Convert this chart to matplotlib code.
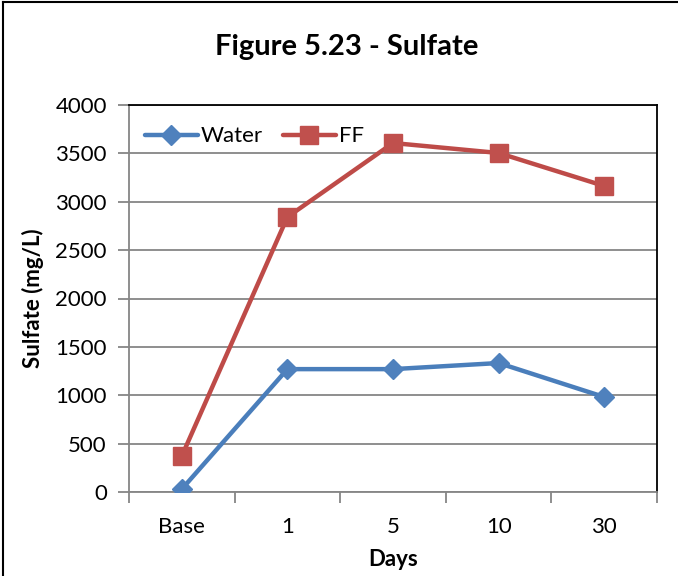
import matplotlib
matplotlib.use("Agg")
import matplotlib.pyplot as plt
from matplotlib.lines import Line2D

plt.rcParams['font.family'] = ['Lato', 'DejaVu Sans']

days = ["Base", "1", "5", "10", "30"]
water = [30, 1270, 1270, 1333, 982]
ff = [372, 2842, 3607, 3504, 3163]
y_ticks = [0, 500, 1000, 1500, 2000, 2500, 3000, 3500, 4000]

BLUE = "#4A7EBB"
BLUE_M = "#4F81BD"
RED = "#BE4B48"
RED_M = "#C0504D"
GRAY = "#868686"

W, H = 678, 576
fig = plt.figure(figsize=(W / 100, H / 100), dpi=100)
ax = fig.add_axes([129 / W, 1 - 492 / H, (657 - 129) / W, (492 - 105) / H])

x = list(range(len(days)))
ax.plot(x, water, color=BLUE, lw=3.2, marker="D", ms=10.5, mfc=BLUE_M, mec=BLUE_M,
        label="Water", solid_capstyle="round", zorder=3)
ax.plot(x, ff, color=RED, lw=3.2, marker="s", ms=13, mfc=RED_M, mec=RED_M,
        label="FF", solid_capstyle="round", zorder=3)

ax.set_xlim(-0.5, len(days) - 0.5)
ax.set_ylim(0, 4000)
ax.set_yticks(y_ticks)
ax.set_yticklabels([str(v) for v in y_ticks])
ax.yaxis.grid(True, color=GRAY, lw=1.3)
ax.set_axisbelow(True)

# category labels centred, tick marks at category boundaries
ax.set_xticks(x)
ax.set_xticklabels(days)
ax.tick_params(axis="x", which="major", length=0, pad=18, labelsize=16)
ax.set_xticks([i - 0.5 for i in range(len(days) + 1)], minor=True)
ax.tick_params(axis="x", which="minor", length=8, width=1.3, color=GRAY, direction="out")
ax.tick_params(axis="y", length=8, width=1.3, color=GRAY, direction="out", pad=8, labelsize=16)

for side in ("left", "bottom"):
    ax.spines[side].set_color(GRAY)
    ax.spines[side].set_linewidth(1.3)
for side in ("top", "right"):
    ax.spines[side].set_color("black")
    ax.spines[side].set_linewidth(1.3)

ax.set_xlabel("Days", fontsize=16, fontweight="bold", labelpad=9)
ax.set_ylabel("Sulfate (mg/L)", fontsize=16, fontweight="bold", labelpad=8)

fig.text(347 / W, 1 - 47 / H, "Figure 5.23 - Sulfate", fontsize=21, fontweight="bold",
         ha="center", va="center")

ax.legend(loc="upper left", bbox_to_anchor=(0.0, 0.985), ncol=2, frameon=False,
          fontsize=16, handlelength=2.4, handletextpad=0.12, columnspacing=0.9,
          borderaxespad=0.3)

# outer chart border (left and top edges)
fig.add_artist(Line2D([2.5 / W, 2.5 / W], [0, 1 - 1.5 / H], transform=fig.transFigure,
                      color="black", lw=1.5))
fig.add_artist(Line2D([2.5 / W, 1], [1 - 1.5 / H, 1 - 1.5 / H], transform=fig.transFigure,
                      color="black", lw=1.5))

fig.savefig("out.png", dpi=100)
